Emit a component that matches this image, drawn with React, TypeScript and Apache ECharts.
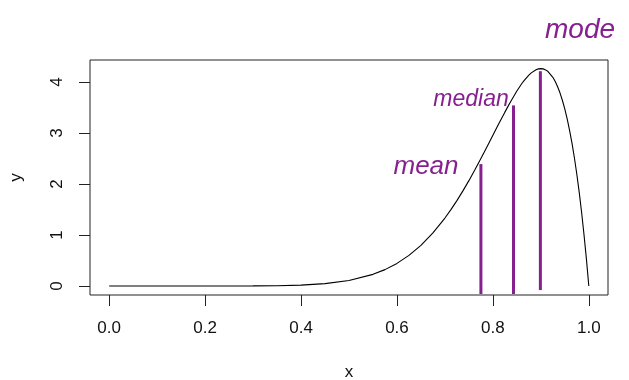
import React, { useEffect, useRef } from "react";
import * as echarts from "echarts";

// Density curve
const curveX = [0, 0.1, 0.2, 0.3, 0.35, 0.4, 0.45, 0.5, 0.55, 0.575, 0.6, 0.625, 0.65, 0.675, 0.7, 0.7125, 0.725, 0.7375, 0.75, 0.7625, 0.775, 0.7875, 0.8, 0.8125, 0.825, 0.8375, 0.85, 0.86, 0.865, 0.875, 0.88, 0.89, 0.895, 0.9, 0.905, 0.91, 0.915, 0.925, 0.93, 0.935, 0.94, 0.945, 0.95, 0.955, 0.96, 0.965, 0.97, 0.975, 0.98, 0.985, 0.99, 0.995, 1.0];
const curveY = [0, 0, 0, 0.002, 0.006, 0.017, 0.046, 0.107, 0.228, 0.321, 0.443, 0.6, 0.797, 1.04, 1.332, 1.497, 1.674, 1.864, 2.065, 2.277, 2.497, 2.723, 2.953, 3.183, 3.408, 3.623, 3.821, 3.964, 4.026, 4.135, 4.178, 4.24, 4.256, 4.261, 4.256, 4.236, 4.204, 4.09, 4.007, 3.905, 3.782, 3.636, 3.466, 3.271, 3.047, 2.794, 2.509, 2.19, 1.834, 1.44, 1.005, 0.526, 0];

// Hand-drawn marker lines: x position, bottom and top
const markerNames = ["mean", "median", "mode"];
const markerX = [0.775, 0.843, 0.899];
const markerBottom = [-0.157, -0.157, -0.08];
const markerTop = [2.39, 3.54, 4.21];

const xTicks = [0, 0.2, 0.4, 0.6, 0.8, 1.0];
const yTicks = [0, 1, 2, 3, 4];

const PURPLE = "#86208f";
const FONT = "Liberation Sans, Arial, Helvetica, sans-serif";

export default function App() {
  const ref = useRef<HTMLDivElement>(null);
  useEffect(() => {
    if (!ref.current) return;
    const chart = echarts.init(ref.current, undefined, { renderer: "svg" });
    const markerSeries = markerX.map((x, i) => ({
      type: "line",
      name: markerNames[i],
      data: [
        [x, markerBottom[i]],
        [x, markerTop[i]],
      ],
      showSymbol: false,
      lineStyle: { color: PURPLE, width: 3 },
      clip: false,
      silent: true,
    }));
    chart.setOption({
      animation: false,
      textStyle: { fontFamily: FONT },
      grid: {
        left: 90,
        top: 60,
        width: 518,
        height: 235,
        outerBoundsMode: "none",
        containLabel: false,
        show: true,
        borderColor: "#222",
        borderWidth: 1,
        backgroundColor: "transparent",
      },
      xAxis: {
        type: "value",
        min: -0.04,
        max: 1.04,
        axisLine: { show: false, onZero: false },
        splitLine: { show: false },
        axisTick: {
          show: true,
          customValues: xTicks,
          length: 11,
          lineStyle: { color: "#222" },
        },
        axisLabel: {
          customValues: xTicks,
          formatter: (v: number) => v.toFixed(1),
          fontSize: 17,
          color: "#111",
          margin: 24,
          fontFamily: FONT,
        },
        name: "x",
        nameLocation: "middle",
        nameGap: 68,
        nameTextStyle: { fontSize: 17, color: "#111", fontFamily: FONT },
      },
      yAxis: {
        type: "value",
        min: -0.1766,
        max: 4.43,
        axisLine: { show: false, onZero: false },
        splitLine: { show: false },
        axisTick: {
          show: true,
          customValues: yTicks,
          length: 11,
          lineStyle: { color: "#222" },
        },
        axisLabel: {
          customValues: yTicks,
          formatter: (v: number) => String(v),
          rotate: 90,
          fontSize: 17,
          color: "#111",
          margin: 25,
          fontFamily: FONT,
        },
        name: "y",
        nameLocation: "middle",
        nameRotate: 90,
        nameGap: 66,
        nameTextStyle: { fontSize: 17, color: "#111", fontFamily: FONT },
      },
      series: [
        {
          type: "line",
          name: "density",
          data: curveX.map((x, i) => [x, curveY[i]]),
          showSymbol: false,
          lineStyle: { color: "#000", width: 1.1 },
          silent: true,
        },
        ...markerSeries,
      ],
      graphic: [
        {
          type: "text",
          x: 580,
          y: 28,
          style: {
            text: "mode",
            fill: PURPLE,
            fontSize: 28,
            fontStyle: "italic",
            fontFamily: FONT,
            align: "center",
            verticalAlign: "middle",
          },
        },
        {
          type: "text",
          x: 471,
          y: 98,
          style: {
            text: "median",
            fill: PURPLE,
            fontSize: 23,
            fontStyle: "italic",
            fontFamily: FONT,
            align: "center",
            verticalAlign: "middle",
          },
        },
        {
          type: "text",
          x: 426,
          y: 165,
          style: {
            text: "mean",
            fill: PURPLE,
            fontSize: 26,
            fontStyle: "italic",
            fontFamily: FONT,
            align: "center",
            verticalAlign: "middle",
          },
        },
      ],
    });
    return () => chart.dispose();
  }, []);
  return (
    <div
      ref={ref}
      style={{ position: "fixed", left: 0, top: 0, width: 629, height: 380 }}
    />
  );
}
